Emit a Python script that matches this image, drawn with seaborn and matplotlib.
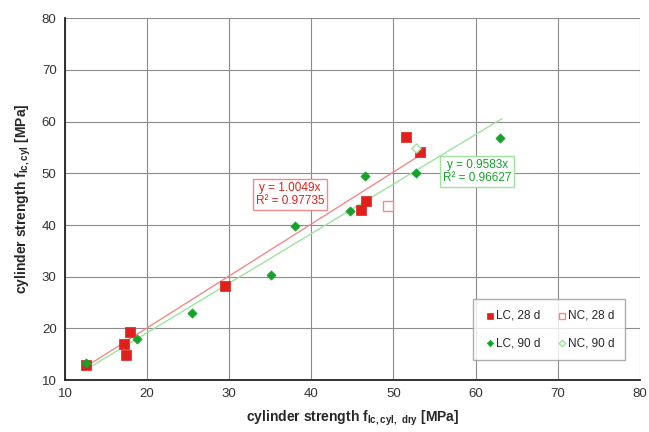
import matplotlib
matplotlib.use("Agg")
import matplotlib.pyplot as plt
import seaborn as sns
import numpy as np
import pandas as pd

# data
lc28_x = [12.6, 17.2, 17.4, 17.9, 29.5, 46.1, 46.7, 51.5, 53.2]
lc28_y = [12.9, 17.0, 14.8, 19.4, 28.3, 42.9, 44.6, 57.0, 54.1]
nc28_x = [49.3]
nc28_y = [43.6]
lc90_x = [12.6, 18.8, 25.5, 35.1, 38.0, 44.7, 46.5, 52.7, 63.0]
lc90_y = [13.4, 17.9, 22.9, 30.3, 39.9, 42.7, 49.5, 50.0, 56.8]
nc90_x = [52.8]
nc90_y = [54.8]
slope28 = 1.0049
r2_28 = 0.97735
slope90 = 0.9583
r2_90 = 0.96627
fit28_x = [12.5, 53.3]
fit90_x = [12.5, 63.2]
ticks = [10, 20, 30, 40, 50, 60, 70, 80]

RED = "#E0201B"
GREEN = "#14A32A"
LRED = "#F28A8A"
LGREEN = "#9EE39E"

sns.set_style("white")
plt.rcParams['font.family'] = ['Liberation Sans', 'DejaVu Sans']
plt.rcParams['mathtext.fontset'] = 'custom'
plt.rcParams['mathtext.rm'] = 'Liberation Sans'
plt.rcParams['mathtext.bf'] = 'Liberation Sans:bold'

fig = plt.figure(figsize=(6.49, 4.32), dpi=100)
ax = fig.add_axes([0.100, 0.120, 0.886, 0.838])

# trend lines
fx28 = np.array(fit28_x)
fx90 = np.array(fit90_x)
sns.lineplot(x=fx28, y=slope28 * fx28, ax=ax, color=LRED, lw=1.0, zorder=2)
sns.lineplot(x=fx90, y=slope90 * fx90, ax=ax, color=LGREEN, lw=1.0, zorder=2)

sns.scatterplot(x=lc28_x, y=lc28_y, ax=ax, marker="s", s=48, color=RED,
                edgecolor=RED, linewidth=0.5, zorder=3, label="LC, 28 d")
sns.scatterplot(x=lc90_x, y=lc90_y, ax=ax, marker="D", s=22, color=GREEN,
                edgecolor=GREEN, linewidth=0.5, zorder=4, label="LC, 90 d")
sns.scatterplot(x=nc28_x, y=nc28_y, ax=ax, marker="s", s=48, facecolor="white",
                edgecolor=LRED, linewidth=1.0, zorder=3, label="NC, 28 d")
sns.scatterplot(x=nc90_x, y=nc90_y, ax=ax, marker="D", s=22, facecolor="white",
                edgecolor=LGREEN, linewidth=1.0, zorder=4, label="NC, 90 d")

ax.set_xlim(10, 80)
ax.set_ylim(10, 80)
ax.set_xticks(ticks)
ax.set_yticks(ticks)
ax.grid(True, color="#8c8c8c", lw=0.8)
for s in ["top", "right"]:
    ax.spines[s].set_visible(False)
for s in ["left", "bottom"]:
    ax.spines[s].set_color("#222222")
    ax.spines[s].set_linewidth(1.3)
ax.tick_params(axis="both", labelsize=9.5, colors="#333333", length=3,
               direction="in", pad=6)

ax.set_xlabel(r"cylinder strength f$_{\mathbf{lc,cyl,\ dry}}$ [MPa]",
              fontsize=10, fontweight="bold", labelpad=6)
ax.set_ylabel(r"cylinder strength f$_{\mathbf{lc,cyl}}$ [MPa]",
              fontsize=10, fontweight="bold", labelpad=6)

ax.text(37.4, 45.9, f"y = {slope28}x\nR² = {r2_28}", color=RED, fontsize=8.5,
        ha="center", va="center", linespacing=1.1,
        bbox=dict(boxstyle="square,pad=0.25", fc="white", ec=LRED, lw=1.0), zorder=5)
ax.text(60.2, 50.4, f"y = {slope90}x\nR² = {r2_90}", color=GREEN, fontsize=8.5,
        ha="center", va="center", linespacing=1.1,
        bbox=dict(boxstyle="square,pad=0.25", fc="white", ec=LGREEN, lw=1.0), zorder=5)

leg = ax.legend(ncol=2, loc="lower right", bbox_to_anchor=(0.985, 0.04),
                fontsize=8.5, frameon=True, fancybox=False, handletextpad=0.0,
                columnspacing=1.4, labelspacing=1.3, borderpad=0.9,
                handlelength=1.0, markerscale=0.7, edgecolor="#999999")
leg.get_frame().set_linewidth(1.0)

fig.savefig("out.png", dpi=100)
